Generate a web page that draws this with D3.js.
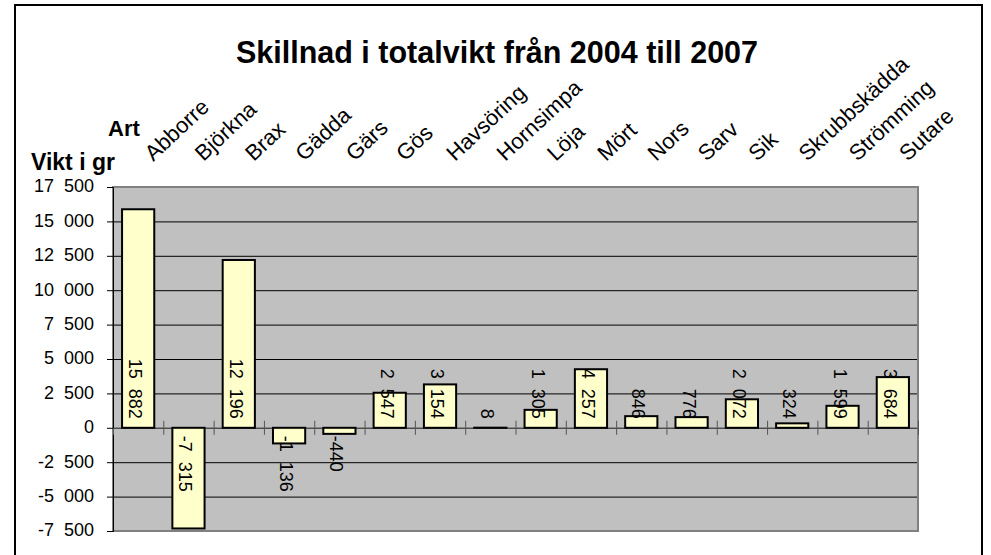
<!DOCTYPE html>
<html>
<head>
	<meta charset="utf-8">
	<title>Skillnad i totalvikt</title>
	<script src="https://d3js.org/d3.v7.min.js"></script>
	<style type="text/css">
		body{ margin: 0; background: #fff; }
		svg{ display: block; font-family: "Liberation Sans", Arial, sans-serif; }
	</style>
</head>
<body>
<script type="text/javascript">
	// data
	var categories = ["Abborre","Björkna","Brax","Gädda","Gärs","Gös","Havsöring","Hornsimpa","Löja","Mört","Nors","Sarv","Sik","Skrubbskädda","Strömming","Sutare"]
	var values = [15882,-7315,12196,-1136,-440,2547,3154,8,1305,4257,846,776,2072,324,1599,3684]
	var yTicks = [-7500,-5000,-2500,0,2500,5000,7500,10000,12500,15000,17500]

	var W = 991, H = 555
	// plot box (note: "top" is reserved on window, so p*)
	var pLeft = 113, pRight = 918, pTop = 187, pBottom = 531

	var sv = d3.formatLocale({decimal: ",", thousands: " ", grouping: [3], currency: ["", " kr"], minus: "-"})
	var fmt = sv.format(",d")

	var svg = d3.select("body").append("svg").attr("width", W).attr("height", H)

	svg.append("rect").attr("width", W).attr("height", H).attr("fill", "#fff")
	// chart area frame
	svg.append("rect").attr("x", 15).attr("y", 5).attr("width", 967).attr("height", 570)
		.attr("fill", "none").attr("stroke", "#000").attr("stroke-width", 2)

	var x = d3.scaleBand().domain(categories).range([pLeft, pRight]).paddingInner(0.36).paddingOuter(0.18)
	var xs = d3.scaleLinear().domain([0, categories.length]).range([pLeft, pRight])
	var y = d3.scaleLinear().domain([-7500, 17500]).range([pBottom, pTop])

	// plot area
	svg.append("rect").attr("x", pLeft).attr("y", pTop).attr("width", pRight - pLeft).attr("height", pBottom - pTop).attr("fill", "#c0c0c0")

	var grid = svg.append("g").attr("transform", "translate(" + pLeft + ",0)")
		.call(d3.axisLeft(y).tickValues(yTicks).tickSize(-(pRight - pLeft)).tickFormat(""))
	grid.select(".domain").remove()
	grid.selectAll("line").attr("stroke", "#000")

	svg.append("rect").attr("x", pLeft).attr("y", pTop).attr("width", pRight - pLeft).attr("height", pBottom - pTop)
		.attr("fill", "none").attr("stroke", "#808080").attr("stroke-width", 2)

	// value axis
	var yAxis = svg.append("g").attr("transform", "translate(" + pLeft + ",0)")
		.call(d3.axisLeft(y).tickValues(yTicks).tickSize(6).tickPadding(13).tickFormat(fmt))
	yAxis.select(".domain").attr("stroke", "#000")
	yAxis.selectAll("line").attr("stroke", "#000")
	yAxis.selectAll("text").attr("font-size", 18).attr("fill", "#000").attr("dy", "0.27em")
		.attr("font-family", "Liberation Sans, Arial, sans-serif").style("word-spacing", "5px")

	// category axis at zero
	var xAxis = svg.append("g").attr("transform", "translate(0," + y(0) + ")")
		.call(d3.axisBottom(xs).tickValues(d3.range(1, categories.length + 1)).tickSize(7).tickFormat(""))
	xAxis.select(".domain").attr("stroke", "#555")
	xAxis.selectAll(".tick line").attr("y1", -7).attr("y2", 7).attr("stroke", "#555")

	// bars
	svg.append("g").selectAll("rect").data(values).join("rect")
		.attr("x", function(d, i){ return x(categories[i]) })
		.attr("width", x.bandwidth())
		.attr("y", function(d){ return y(Math.max(0, d)) })
		.attr("height", function(d){ return Math.abs(y(d) - y(0)) })
		.attr("fill", "#ffffcc").attr("stroke", "#000").attr("stroke-width", 2)

	// data labels, rotated
	svg.append("g").selectAll("text").data(values).join("text")
		.attr("transform", function(d, i){
			var cx = x(categories[i]) + x.bandwidth() / 2 - 3
			var cy = d >= 0 ? y(0) - 9 : y(0) + 8
			return "translate(" + cx + "," + cy + ") rotate(90)"
		})
		.attr("text-anchor", function(d){ return d >= 0 ? "end" : "start" })
		.attr("dominant-baseline", "central")
		.attr("font-size", 18).attr("fill", "#000").style("word-spacing", "5px")
		.text(function(d){ return fmt(d) })

	// category labels above plot
	svg.append("g").selectAll("text").data(categories).join("text")
		.attr("transform", function(d){
			return "translate(" + (x(d) + x.bandwidth() / 2 + 15) + ",162) rotate(-43)"
		})
		.attr("font-size", 22).attr("fill", "#000")
		.text(function(d){ return d })

	// titles
	svg.append("text").attr("x", 497).attr("y", 63).attr("text-anchor", "middle")
		.attr("font-size", 30.5).attr("font-weight", "bold").text("Skillnad i totalvikt från 2004 till 2007")
	svg.append("text").attr("x", 108).attr("y", 136)
		.attr("font-size", 22).attr("font-weight", "bold").text("Art")
	svg.append("text").attr("x", 31).attr("y", 170)
		.attr("font-size", 23).attr("font-weight", "bold").text("Vikt i gr")
</script>
</body>
</html>
